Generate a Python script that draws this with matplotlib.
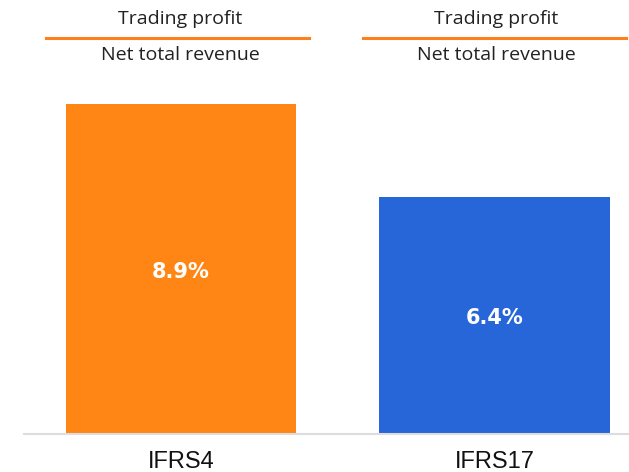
import matplotlib
matplotlib.use("Agg")
import matplotlib.pyplot as plt
from matplotlib.lines import Line2D
from matplotlib.transforms import offset_copy

categories = ["IFRS4", "IFRS17"]
values = [8.9, 6.4]
labels = ["8.9%", "6.4%"]
colors = ["#FF8614", "#2766D8"]
header_top = "Trading profit"
header_bottom = "Net total revenue"

fig = plt.figure(figsize=(6.29, 4.72), dpi=100)
W, H = 629, 472
ax = fig.add_axes([24 / W, 38 / H, 605 / W, 330 / H])
x = list(range(len(categories)))
ax.bar(x, values, width=0.734, color=colors, zorder=2)
ax.set_xlim(-0.5008, 1.4292)
ax.set_ylim(0, 8.9)
for s in ["top", "right", "left"]:
    ax.spines[s].set_visible(False)
ax.spines["bottom"].set_color("#DDDDDD")
ax.spines["bottom"].set_linewidth(1.5)
ax.set_yticks([])
ax.set_xticks(x)
ax.set_xticklabels(categories, fontsize=17, family="Liberation Sans", color="#111111")
ax.tick_params(axis="x", length=0, pad=12.5)
tr = offset_copy(ax.transData, fig=fig, x=0, y=-3, units="dots")
for xi, v, lab in zip(x, values, labels):
    ax.text(xi, v / 2, lab, ha="center", va="center", color="white",
            fontsize=15, fontweight="bold", family="DejaVu Sans", zorder=3,
            transform=tr)

for xc, (x0, x1) in zip([180, 496], [(46, 309), (363, 626)]):
    fig.text(xc / W, 1 - 19 / H, header_top, ha="center", va="center",
             fontsize=14, family="Open Sans", color="#222222")
    fig.text(xc / W, 1 - 55 / H, header_bottom, ha="center", va="center",
             fontsize=14, family="Open Sans", color="#222222")
    fig.add_artist(Line2D([x0 / W, x1 / W], [1 - 37.5 / H, 1 - 37.5 / H],
                          transform=fig.transFigure, color="#FF7F1A", lw=2.2))

fig.savefig("out.png", dpi=100)
